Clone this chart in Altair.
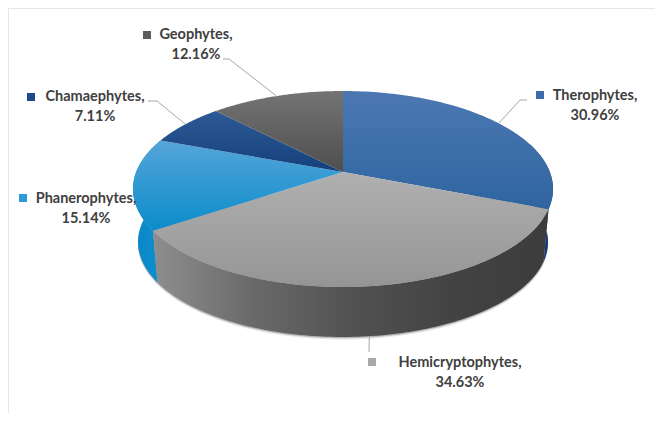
import numpy as np
import pandas as pd
import altair as alt

categories = ["Therophytes", "Hemicryptophytes", "Phanerophytes", "Chamaephytes", "Geophytes"]
values = [30.96, 34.63, 15.14, 7.11, 12.16]

TOP = dict(cx=343, cy=189, rx=210, ry=98)
BOT = dict(cx=343, cy=242, rx=205, ry=95)
TILT = -0.173
FONT = "Lato"
INK = "#404040"

top_cols = {
    "Therophytes": ("#4c78b2", "#2f659f"),
    "Hemicryptophytes": ("#b0b0b0", "#959595"),
    "Phanerophytes": ("#55a5d8", "#0a8ccb"),
    "Chamaephytes": ("#2d5a96", "#143f7a"),
    "Geophytes": ("#747474", "#4e4e4e"),
}
key_cols = ["#3c6cab", "#a9a9a9", "#2a9bd8", "#1b4a87", "#5e5e5e"]

labels1 = ["Therophytes,", "Hemicryptophytes,", "Phanerophytes,", "Chamaephytes,", "Geophytes,"]
labels2 = ["30.96%", "34.63%", "15.14%", "7.11%", "12.16%"]
label_x = [595, 460, 86, 95, 196]
label_y = [96, 363, 199, 97, 35]
key_x = [540, 372, 23, 31, 147]
key_y = [95, 362, 198, 97, 35]
elbow = {
    "Therophytes": [(520, 100), (527, 100)],
    "Hemicryptophytes": [(369, 352)],
    "Chamaephytes": [(157, 101), (148, 101)],
    "Geophytes": [(229, 59), (223, 59)],
}


def project(frac, e):
    """Share of the pie (0-1, clockwise from top) to a point on a tilted ellipse."""
    t = 2 * np.pi * np.asarray(frac, dtype=float)
    sx, sy = np.sin(t), -np.cos(t)
    d = 1 + TILT * sy
    return (e["cx"] + e["rx"] * sx * np.sqrt(1 - TILT ** 2) / d,
            e["cy"] + e["ry"] * (sy + TILT) / d)


fracs = np.cumsum([0] + values) / sum(values)
apex = (TOP["cx"], TOP["cy"] + TOP["ry"] * TILT)

xs = alt.Scale(domain=[8, 655], nice=False, zero=False)
ys = alt.Scale(domain=[413, 8], nice=False, zero=False)


def poly(px, py, fill, **kw):
    df = pd.DataFrame({"px": px, "py": py, "i": np.arange(len(px))})
    return alt.Chart(df).mark_line(fill=fill, strokeWidth=0, strokeOpacity=0, clip=False, **kw).encode(
        x=alt.X("px:Q", scale=xs, axis=None),
        y=alt.Y("py:Q", scale=ys, axis=None),
        order="i:Q",
    )


def vgrad(a, b):
    return alt.Gradient(gradient="linear", x1=0, y1=0, x2=0, y2=1,
                        stops=[alt.GradientStop(offset=0, color=a), alt.GradientStop(offset=1, color=b)])


def hgrad(*cols):
    n = len(cols) - 1
    return alt.Gradient(gradient="linear", x1=0, y1=0, x2=1, y2=0,
                        stops=[alt.GradientStop(offset=k / n, color=c) for k, c in enumerate(cols)])


layers = []

# frame
frame = pd.DataFrame({"a": [8, 8], "b": [655, 8], "c": [8, 8], "d": [8, 413]})
layers.append(alt.Chart(frame).mark_rule(color="#e6e4ec", strokeWidth=2).encode(
    x=alt.X("a:Q", scale=xs, axis=None), x2="b:Q",
    y=alt.Y("c:Q", scale=ys, axis=None), y2="d:Q"))

# soft shadow under the pie
grid = np.linspace(0.19, 0.81, 140)
sx, sy = project(grid, BOT)
layers.append(poly(sx, sy + 2.5, "#000000", opacity=0.10))
layers.append(poly(sx, sy + 1.2, "#000000", opacity=0.22))

# side walls
wall_fill = {
    "Therophytes": hgrad("#1a4b8c", "#0d3570"),
    "Hemicryptophytes": hgrad("#8e8e8e", "#6a6a6a", "#525252", "#434343", "#3c3c3c"),
    "Phanerophytes": hgrad("#0a86c6", "#0f8fd0"),
}
for idx, (name, lo, hi) in enumerate([
    ("Phanerophytes", fracs[2], fracs[3]),
    ("Therophytes", 0.2, fracs[1]),
    ("Hemicryptophytes", fracs[1], fracs[2]),
]):
    g = np.linspace(lo, hi, 120)
    tx, ty = project(g, TOP)
    bx, by = project(g, BOT)
    layers.append(poly(np.r_[tx, bx[::-1]], np.r_[ty, by[::-1]], wall_fill[name]))

# top faces
for k, name in enumerate(categories):
    g = np.linspace(fracs[k], fracs[k + 1], 90)
    tx, ty = project(g, TOP)
    layers.append(poly(np.r_[apex[0], tx, apex[0]], np.r_[apex[1], ty, apex[1]], vgrad(*top_cols[name])))

# leader lines, anchored on each slice's mid share
for k, name in enumerate(categories):
    if name not in elbow:
        continue
    mid = (fracs[k] + fracs[k + 1]) / 2
    ax, ay = project(mid, BOT if name == "Hemicryptophytes" else TOP)
    pts = [(float(ax), float(ay))] + elbow[name]
    df = pd.DataFrame(pts, columns=["px", "py"]).assign(i=range(len(pts)))
    layers.append(alt.Chart(df).mark_line(color="#a6a6a6", strokeWidth=1).encode(
        x=alt.X("px:Q", scale=xs, axis=None), y=alt.Y("py:Q", scale=ys, axis=None), order="i:Q"))

# legend keys and labels
tab = pd.DataFrame({"name": categories, "l1": labels1, "l2": labels2, "lx": label_x, "ly": label_y,
                    "kx": key_x, "ky": key_y, "col": key_cols})
tab["ly2"] = tab["ly"] + 20
layers.append(alt.Chart(tab).mark_square(size=64, opacity=1).encode(
    x=alt.X("kx:Q", scale=xs, axis=None), y=alt.Y("ky:Q", scale=ys, axis=None),
    color=alt.Color("col:N", scale=None)))
for col, ycol in (("l1", "ly"), ("l2", "ly2")):
    layers.append(alt.Chart(tab).mark_text(font=FONT, fontSize=14.5, fontWeight="bold", color=INK,
                                           align="center", baseline="middle").encode(
        x=alt.X("lx:Q", scale=xs, axis=None), y=alt.Y(f"{ycol}:Q", scale=ys, axis=None), text=f"{col}:N"))

chart = alt.layer(*layers).properties(width=647, height=405, padding=0, background="white",
                                      autosize=alt.AutoSizeParams(type="none")).configure_view(stroke=None)
chart.save("out.html", embed_options={"renderer": "svg", "actions": False})
